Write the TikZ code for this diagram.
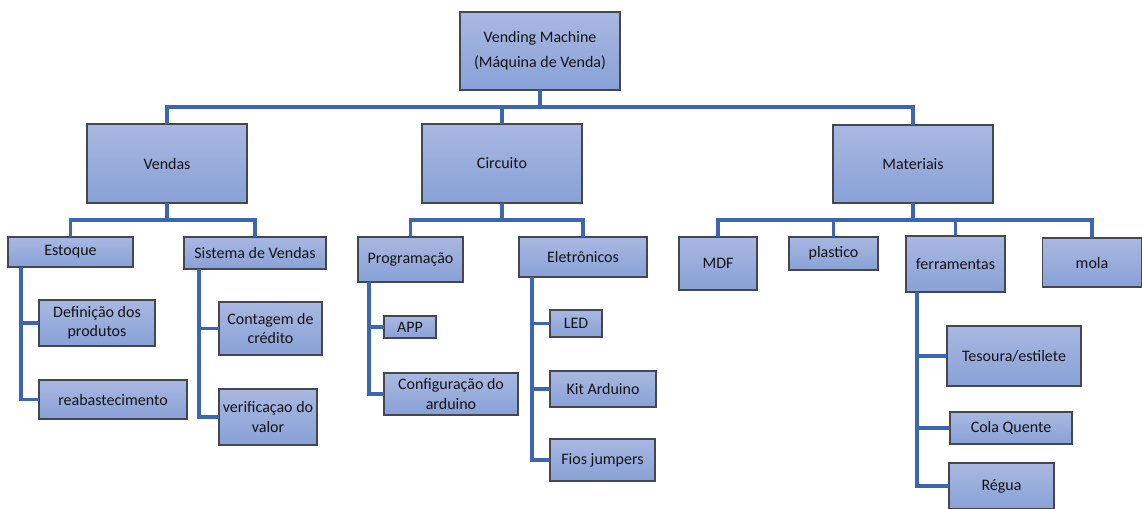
\documentclass[tikz,border=0pt]{standalone}
\usepackage{fontspec}
\setmainfont{Carlito}
\usetikzlibrary{calc}
\definecolor{conncol}{HTML}{3D66B0}
\definecolor{boxtop}{HTML}{A9B8E1}
\definecolor{boxbot}{HTML}{88A1D7}
\definecolor{boxline}{HTML}{45474F}
\definecolor{txt}{HTML}{141414}
\tikzset{
  box/.style={draw=boxline, line width=0.8pt, top color=boxtop, bottom color=boxbot,
    inner sep=0pt, outer sep=0pt, align=center, text=txt,
    font=\fontsize{12}{14.5}\selectfont},
  conn/.style={draw=conncol, line width=2.3pt}
}
\newcommand{\bx}[7]{% name, cx, cy, w, h, text
  \node[box, minimum width=#4*0.75pt, minimum height=#5*0.75pt] (#1) at (#2,#3) {#6};}
\begin{document}
\begin{tikzpicture}[x=0.75pt,y=-0.75pt]
\useasboundingbox (0,0) rectangle (1142,508);
\coordinate (busA) at (0,107);
\coordinate (busB) at (0,220);
% boxes
\bx{root}{540}{51}{160}{78}{Vending Machine\\[4pt](Máquina de Venda)}{}
\bx{vendas}{167}{163.5}{160}{79}{Vendas}{}
\bx{circ}{502}{163.5}{160}{79}{Circuito}{}
\bx{mat}{913}{164}{160}{78}{Materiais}{}
\bx{estoque}{70.5}{252}{125}{30}{Estoque}{}
\bx{sist}{255}{253}{142}{32}{Sistema de Vendas}{}
\bx{defin}{97}{323}{116}{46}{Definição dos\\produtos}{}
\bx{reab}{113}{399.5}{148}{39}{reabastecimento}{}
\bx{cont}{270.5}{328.5}{103}{53}{Contagem de\\crédito}{}
\bx{veri}{268}{417}{98}{56}{verificaçao do\\valor}{}
\bx{prog}{410.5}{259.5}{105}{45}{Programação}{}
\bx{elet}{583}{257}{128}{40}{Eletrônicos}{}
\bx{app}{410}{327}{52}{22}{APP}{}
\bx{conf}{451}{394}{134}{42}{Configuração do\\arduino}{}
\bx{led}{576}{323.5}{52}{27}{LED}{}
\bx{kit}{603}{389}{106}{36}{Kit Arduino}{}
\bx{fios}{602.5}{460}{105}{42}{Fios jumpers}{}
\bx{mdf}{718}{263.5}{78}{53}{MDF}{}
\bx{plas}{833.5}{253.5}{89}{33}{plastico}{}
\bx{ferr}{955.5}{264}{99}{56}{ferramentas}{}
\bx{mola}{1092}{262.5}{99}{49}{mola}{}
\bx{tes}{1014}{356}{134}{60}{Tesoura/estilete}{}
\bx{cola}{1011}{428}{122}{32}{Cola Quente}{}
\bx{regua}{1001.5}{486}{105}{46}{Régua}{}
% level 1
\draw[conn] (root.south) -- (root.south |- busA);
\draw[conn] (vendas.north) |- (root.south |- busA) -| (mat.north);
\draw[conn] (circ.north) -- (circ.north |- busA);
% level 2
\draw[conn] (vendas.south) -- (vendas.south |- busB);
\draw[conn] (estoque.north) |- (vendas.south |- busB) -| (sist.north);
\draw[conn] (circ.south) -- (circ.south |- busB);
\draw[conn] (prog.north) |- (circ.south |- busB) -| (elet.north);
\draw[conn] (mat.south) -- (mat.south |- busB);
\draw[conn] (mdf.north) |- (mat.south |- busB) -| (mola.north);
\draw[conn] (plas.north) -- (plas.north |- busB);
\draw[conn] (ferr.north) -- (ferr.north |- busB);
% side branches
\draw[conn] ($(estoque.south west)+(13,0)$) |- (defin.west);
\draw[conn] ($(estoque.south west)+(13,0)$) |- (reab.west);
\draw[conn] ($(sist.south west)+(15,0)$) |- (cont.west);
\draw[conn] ($(sist.south west)+(15,0)$) |- (veri.west);
\draw[conn] ($(prog.south west)+(11,0)$) |- (app.west);
\draw[conn] ($(prog.south west)+(11,0)$) |- (conf.west);
\draw[conn] ($(elet.south west)+(13,0)$) |- (led.west);
\draw[conn] ($(elet.south west)+(13,0)$) |- (kit.west);
\draw[conn] ($(elet.south west)+(13,0)$) |- (fios.west);
\draw[conn] ($(ferr.south west)+(11,0)$) |- (tes.west);
\draw[conn] ($(ferr.south west)+(11,0)$) |- (cola.west);
\draw[conn] ($(ferr.south west)+(11,0)$) |- (regua.west);
\end{tikzpicture}
\end{document}
